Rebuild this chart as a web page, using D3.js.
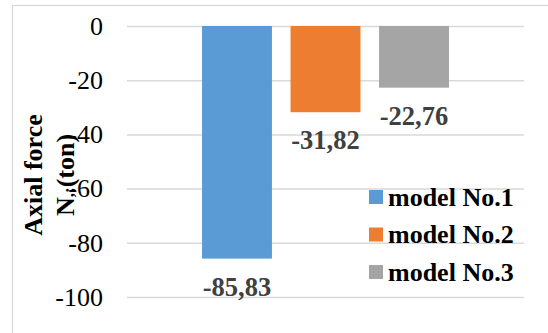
<!DOCTYPE html>
<html>
<head>
<meta charset="utf-8">
<script src="https://cdn.jsdelivr.net/npm/d3@7"></script>
</head>
<body style="margin:0;background:#fff">
<svg id="chart" width="548" height="333" style="display:block"></svg>
<script>
// Axial force per model (single category, three series)
const categories = [""];
const seriesNames = ["model No.1", "model No.2", "model No.3"];
const seriesValues = [-85.83, -31.82, -22.76];
const seriesColors = ["#5b9bd5", "#ed7d31", "#a5a5a5"];
const yTicks = [0, -20, -40, -60, -80, -100];

const FONT = '"Liberation Serif", "Times New Roman", serif';
const svg = d3.select("#chart");
const plot = { left: 127, right: 524, top: 26, bottom: 297 };

// outer chart frame
svg.append("rect")
  .attr("x", 12.5).attr("y", 5.5)
  .attr("width", 700).attr("height", 500)
  .attr("fill", "none").attr("stroke", "#d9d9d9").attr("stroke-width", 1.3);

const y = d3.scaleLinear().domain([-100, 0]).range([plot.bottom, plot.top]);

const x0 = d3.scaleBand().domain(categories)
  .range([plot.left, plot.right]).paddingOuter(0.2476).paddingInner(0);
const x1 = d3.scaleBand().domain(seriesNames)
  .range([0, x0.bandwidth()]).paddingInner(0.21).paddingOuter(0.105);

// gridlines + tick labels
const yAxis = d3.axisLeft(y).tickValues(yTicks)
  .tickSize(-(plot.right - plot.left)).tickPadding(24)
  .tickFormat(d => d === 0 ? "0" : "-" + Math.abs(d));
const gy = svg.append("g").attr("transform", `translate(${plot.left},0)`).call(yAxis);
gy.attr("font-family", null).attr("font-size", null);
gy.select(".domain").remove();
gy.selectAll(".tick line").attr("stroke", "#d9d9d9").attr("stroke-width", 1.5);
gy.selectAll(".tick text")
  .style("font-family", FONT).style("font-size", "26px")
  .attr("fill", "#000").attr("dy", "0.32em");

// bars
const g = svg.append("g").attr("transform", `translate(${x0("")},0)`);
const data = seriesNames.map((s, i) => ({ s, v: seriesValues[i], c: seriesColors[i] }));
g.selectAll("rect.bar").data(data).join("rect")
  .attr("class", "bar")
  .attr("x", d => x1(d.s))
  .attr("width", x1.bandwidth())
  .attr("y", y(0))
  .attr("height", d => y(d.v) - y(0))
  .attr("fill", d => d.c);

// value labels
g.selectAll("text.val").data(data).join("text")
  .attr("class", "val")
  .attr("x", d => x1(d.s) + x1.bandwidth() / 2)
  .attr("y", d => y(d.v) + 37)
  .attr("text-anchor", "middle")
  .style("font-family", FONT).style("font-size", "26.5px").style("font-weight", "bold")
  .attr("fill", "#404040")
  .text(d => "-" + d3.format(".2f")(Math.abs(d.v)).replace(".", ","));

// axis title (two rotated lines)
const title = svg.append("text")
  .attr("transform", "translate(42,175) rotate(-90)")
  .attr("text-anchor", "middle")
  .style("font-family", FONT).style("font-size", "26px").style("font-weight", "bold")
  .attr("fill", "#000");
title.append("tspan").attr("x", 0).attr("y", 0).text("Axial force");
title.append("tspan").attr("x", 0).attr("y", 32).text("N");
title.append("tspan").style("font-size", "17px").text(",;");
title.append("tspan").text("(ton)");

// legend
const legend = svg.append("g").attr("transform", "translate(369,190)");
const li = legend.selectAll("g").data(data).join("g")
  .attr("transform", (d, i) => `translate(0,${i * 37.5})`);
li.append("rect").attr("width", 14).attr("height", 14).attr("fill", d => d.c);
li.append("text").attr("x", 19).attr("y", 15.5)
  .style("font-family", FONT).style("font-size", "26px").style("font-weight", "bold")
  .attr("fill", "#000")
  .text(d => d.s);
</script>
</body>
</html>
